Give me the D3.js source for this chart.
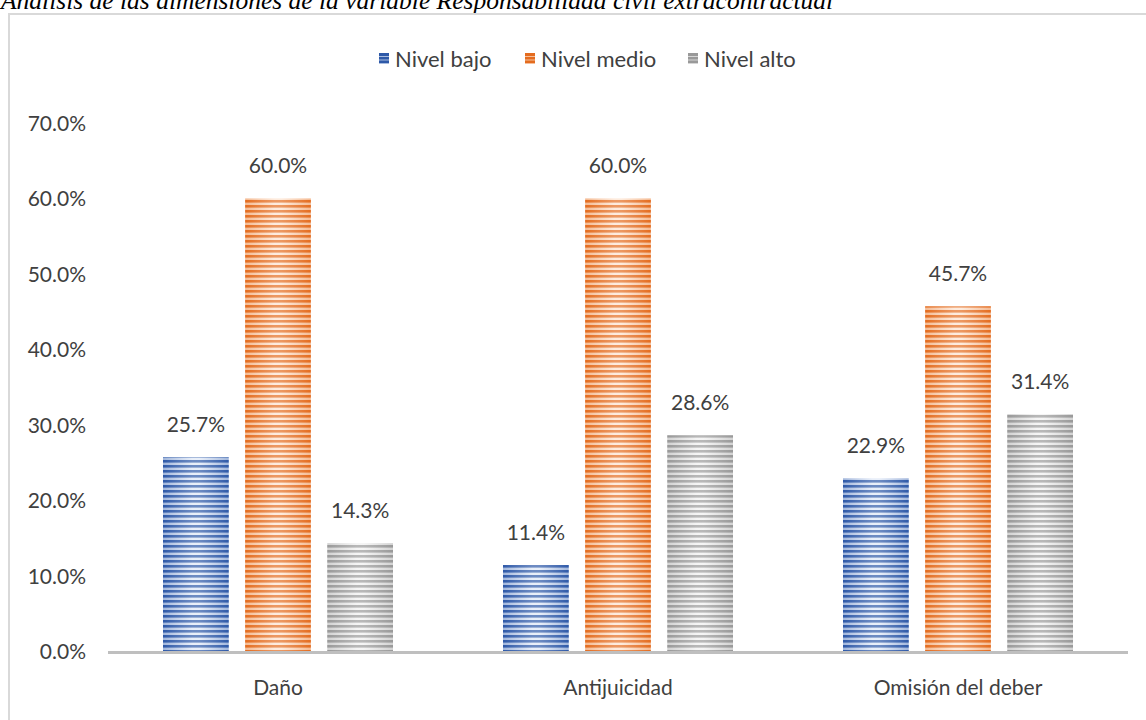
<!DOCTYPE html>
<html>
<head>
<meta charset="utf-8">
<script src="https://cdn.jsdelivr.net/npm/d3@7"></script>
<style>
  html, body { margin: 0; padding: 0; background: #ffffff; }
  svg { display: block; }
</style>
</head>
<body>
<svg id="chart" width="1146" height="720"></svg>
<script>
// Dimensions of the variable, one group per category
const categories = ["Daño", "Antijuicidad", "Omisión del deber"];
const seriesNames = ["Nivel bajo", "Nivel medio", "Nivel alto"];
const nivelBajo = [25.7, 11.4, 22.9];
const nivelMedio = [60.0, 60.0, 45.7];
const nivelAlto = [14.3, 28.6, 31.4];
const yTicks = [0, 10, 20, 30, 40, 50, 60, 70];
const titleText = "Análisis de las dimensiones de la variable Responsabilidad civil extracontractual";

const seriesValues = [nivelBajo, nivelMedio, nivelAlto];
const palette = {
  "Nivel bajo":  { dark: "#2e59a8", light: "#dfe8f7" },
  "Nivel medio": { dark: "#e46c1f", light: "#fde3cf" },
  "Nivel alto":  { dark: "#999999", light: "#f0f0f0" }
};

const svg = d3.select("#chart");
const font = "Lato, 'Open Sans', sans-serif";
const textColor = "#404040";

// Caption above the frame
svg.append("text")
  .attr("x", 1).attr("y", 9)
  .attr("font-family", "'Liberation Serif', 'Times New Roman', serif")
  .attr("font-style", "italic")
  .attr("font-size", 25.5)
  .attr("fill", "#000")
  .text(titleText);

// Chart frame
svg.append("rect")
  .attr("x", 9).attr("y", 14)
  .attr("width", 1150).attr("height", 720)
  .attr("fill", "#fff")
  .attr("stroke", "#d9d9d9")
  .attr("stroke-width", 2);

// Striped fills with a soft horizontal sheen
const defs = svg.append("defs");
seriesNames.forEach((name, i) => {
  const c = palette[name];
  const p = defs.append("pattern")
    .attr("id", "stripe" + i)
    .attr("patternUnits", "userSpaceOnUse")
    .attr("width", 10).attr("height", 5);
  p.append("rect").attr("width", 10).attr("height", 5).attr("fill", c.light);
  p.append("rect").attr("y", 0).attr("width", 10).attr("height", 2.6).attr("fill", c.dark);

  const g = defs.append("linearGradient")
    .attr("id", "sheen" + i)
    .attr("x1", "0%").attr("x2", "100%").attr("y1", "0%").attr("y2", "0%");
  g.append("stop").attr("offset", "0%").attr("stop-color", c.dark).attr("stop-opacity", 0.35);
  g.append("stop").attr("offset", "45%").attr("stop-color", "#fff").attr("stop-opacity", 0.3);
  g.append("stop").attr("offset", "55%").attr("stop-color", "#fff").attr("stop-opacity", 0.3);
  g.append("stop").attr("offset", "100%").attr("stop-color", c.dark).attr("stop-opacity", 0.35);
});

// Scales
const x0 = d3.scaleBand().domain(categories).range([108, 1128]).padding(0);
const x1 = d3.scaleBand().domain(seriesNames)
  .range([55, x0.bandwidth() - 55]).paddingInner(0.2).paddingOuter(0);
const y = d3.scaleLinear().domain([0, 70]).range([651, 123]);

// Y axis labels (no axis line, no gridlines)
const yAxis = d3.axisLeft(y).tickValues(yTicks).tickSize(0).tickPadding(0)
  .tickFormat(d => d3.format(".1f")(d) + "%");
const yg = svg.append("g").attr("transform", "translate(86,0)").call(yAxis);
yg.select(".domain").remove();
yg.selectAll("text")
  .attr("font-family", font).attr("font-size", 21).attr("fill", textColor)
  .attr("dy", "0.36em");

// Bars
const rows = categories.map((cat, ci) => ({
  cat,
  vals: seriesNames.map((s, si) => ({ s, si, v: seriesValues[si][ci] }))
}));

const groups = svg.append("g").selectAll("g").data(rows).join("g")
  .attr("transform", d => `translate(${x0(d.cat)},0)`);

groups.selectAll("rect.bar").data(d => d.vals).join("rect")
  .attr("class", "bar")
  .attr("x", d => x1(d.s)).attr("width", x1.bandwidth())
  .attr("y", d => y(d.v)).attr("height", d => y(0) - y(d.v))
  .attr("fill", d => `url(#stripe${d.si})`);

groups.selectAll("rect.sheen").data(d => d.vals).join("rect")
  .attr("class", "sheen")
  .attr("x", d => x1(d.s)).attr("width", x1.bandwidth())
  .attr("y", d => y(d.v)).attr("height", d => y(0) - y(d.v))
  .attr("fill", d => `url(#sheen${d.si})`);

groups.selectAll("text.val").data(d => d.vals).join("text")
  .attr("class", "val")
  .attr("x", d => x1(d.s) + x1.bandwidth() / 2)
  .attr("y", d => y(d.v) - 25)
  .attr("text-anchor", "middle")
  .attr("font-family", font).attr("font-size", 21).attr("fill", textColor)
  .text(d => d3.format(".1f")(d.v) + "%");

// X axis
const xAxis = d3.axisBottom(x0).tickSize(0).tickPadding(0);
const xg = svg.append("g").attr("transform", `translate(0,${y(0)})`).call(xAxis);
xg.select(".domain").attr("stroke", "#bfbfbf").attr("stroke-width", 3)
  .attr("d", `M108,1.5H1128`);
xg.selectAll("text")
  .attr("font-family", font).attr("font-size", 21).attr("fill", textColor)
  .attr("dy", "0").attr("y", 44);

// Legend
const legendItems = [
  { s: seriesNames[0], x: 379 },
  { s: seriesNames[1], x: 525 },
  { s: seriesNames[2], x: 688 }
];
const lg = svg.append("g");
legendItems.forEach((it, i) => {
  const c = palette[it.s];
  lg.append("rect").attr("x", it.x).attr("y", 53).attr("width", 10).attr("height", 11)
    .attr("fill", c.dark);
  [56, 59.5, 63].forEach(yy => {
    lg.append("rect").attr("x", it.x).attr("y", yy).attr("width", 10).attr("height", 1)
      .attr("fill", c.light).attr("opacity", 0.7);
  });
  lg.append("text").attr("x", it.x + 16).attr("y", 67)
    .attr("font-family", font).attr("font-size", 22).attr("fill", textColor)
    .text(it.s);
});
</script>
</body>
</html>
